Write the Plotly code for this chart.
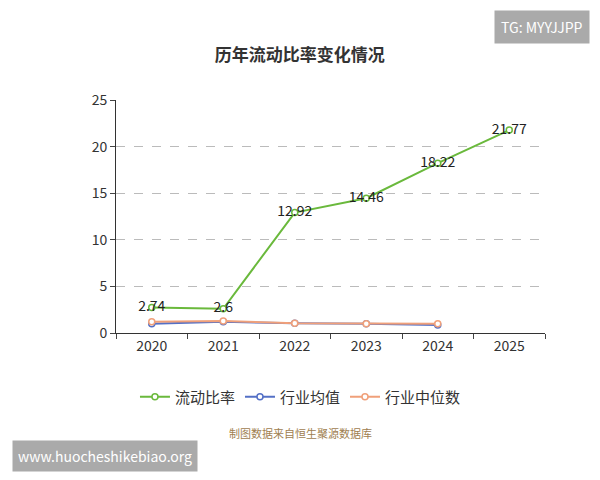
import plotly.graph_objects as go

years = ["2020", "2021", "2022", "2023", "2024", "2025"]
ratio = [2.74, 2.6, 12.92, 14.46, 18.22, 21.77]
ind_mean = [1.0, 1.2, 1.05, 1.0, 0.85]
ind_median = [1.2, 1.3, 1.05, 1.0, 1.0]

font = "Noto Sans CJK SC"
fig = go.Figure()
fig.add_trace(go.Scatter(x=years, y=ratio, name="流动比率", mode="lines+markers+text",
    text=[str(v) for v in ratio], textposition="middle center",
    textfont=dict(size=14, color="#222"),
    line=dict(color="#6ab93c", width=2),
    marker=dict(size=6, color="white", line=dict(color="#6ab93c", width=1.5))))
fig.add_trace(go.Scatter(x=years[:5], y=ind_mean, name="行业均值", mode="lines+markers",
    line=dict(color="#5470c6", width=2),
    marker=dict(size=6, color="white", line=dict(color="#5470c6", width=1.5))))
fig.add_trace(go.Scatter(x=years[:5], y=ind_median, name="行业中位数", mode="lines+markers",
    line=dict(color="#f0a07a", width=2),
    marker=dict(size=6, color="white", line=dict(color="#f0a07a", width=1.5))))

fig.update_layout(
    width=592, height=472, plot_bgcolor="white", paper_bgcolor="white",
    font=dict(family=font, size=14, color="#333"),
    title=dict(text="<b>历年流动比率变化情况</b>", x=0.493, y=0.9, xanchor="center", yanchor="middle",
               font=dict(size=17, color="#333")),
    margin=dict(l=108, r=55, t=92, b=147),
    legend=dict(orientation="h", x=0.43, xanchor="center", y=-0.275, yanchor="middle", font=dict(size=15)),
    xaxis=dict(type="category", range=[-0.5, 5.5], tickson="boundaries", ticks="outside", ticklen=5,
               showline=True, linecolor="#333", showgrid=False, tickfont=dict(size=14)),
    yaxis=dict(range=[0, 25], dtick=5, showline=True, linecolor="#333", ticks="outside", ticklen=5,
               gridcolor="#bbb", griddash="dash", zeroline=False, tickfont=dict(size=14)),
    annotations=[
        dict(text="TG: MYYJJPP", xref="paper", yref="paper", x=1.105, y=1.386, xanchor="right", yanchor="top",
             showarrow=False, bgcolor="#aaa", font=dict(color="white", size=14), borderpad=6),
        dict(text="www.huocheshikebiao.org", xref="paper", yref="paper", x=-0.242, y=-0.459, xanchor="left", yanchor="top",
             showarrow=False, bgcolor="#aaa", font=dict(color="white", size=14), borderpad=5),
        dict(text="制图数据来自恒生聚源数据库", xref="paper", yref="paper", x=0.429, y=-0.429, xanchor="center",
             yanchor="middle", showarrow=False, font=dict(color="#a08050", size=11)),
    ],
)
fig.write_html("out.html")
